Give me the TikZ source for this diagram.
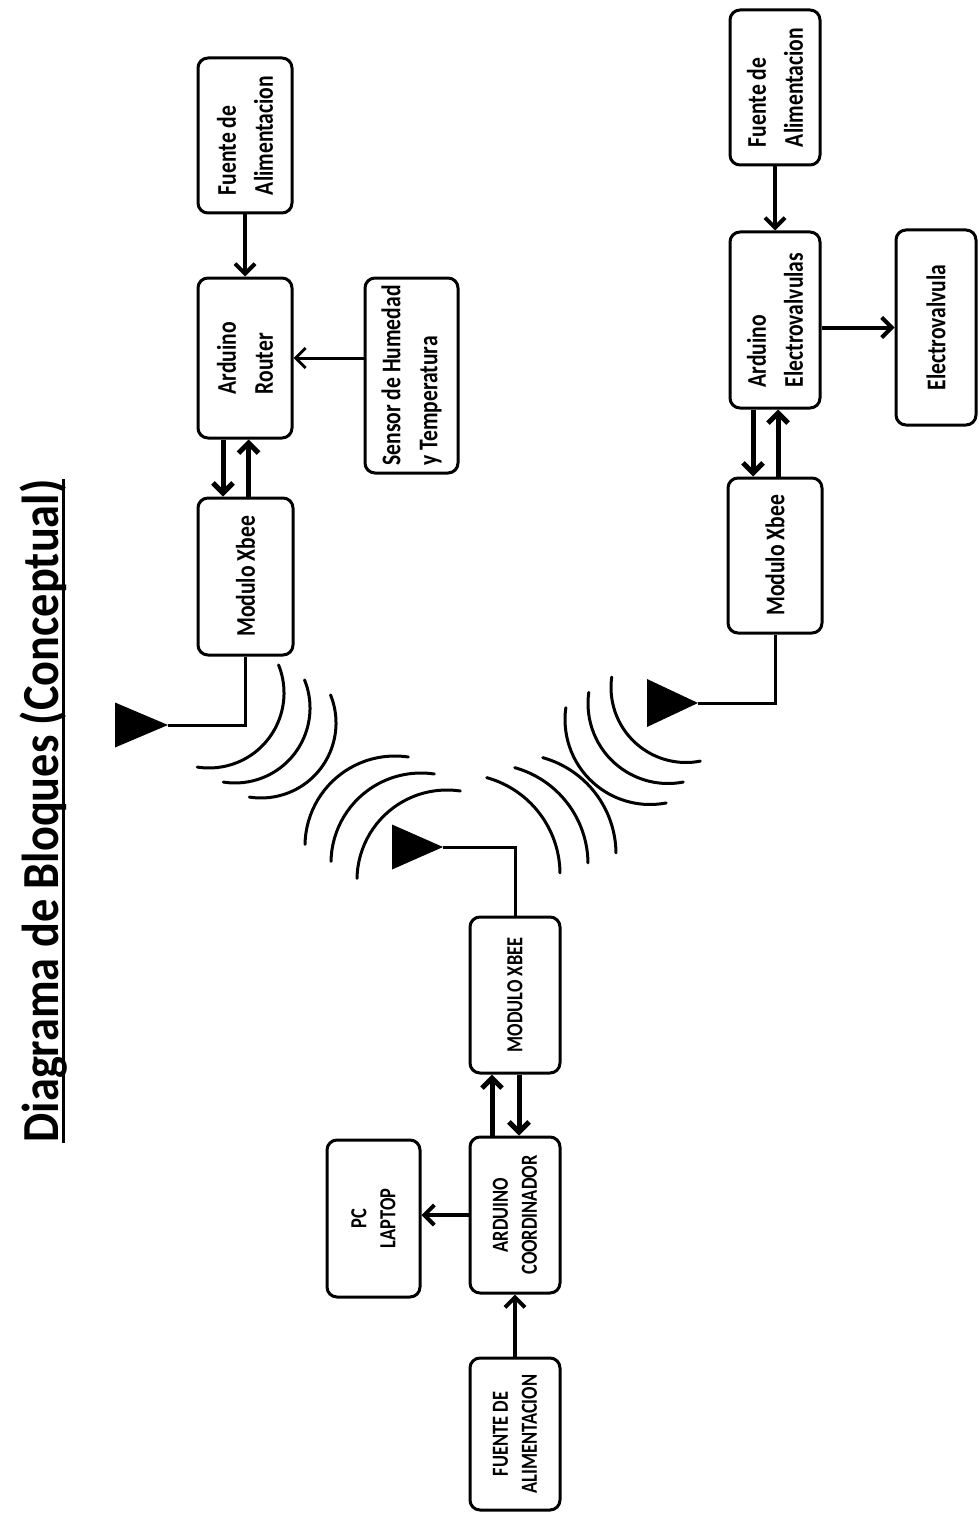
\documentclass[tikz,border=0pt]{standalone}
\usepackage{fontspec}
\setmainfont{Carlito}[FakeStretch=0.8]
\newfontfamily\titulofont{Carlito}[FakeStretch=0.89]
\usetikzlibrary{arrows.meta}

\begin{document}
\begin{tikzpicture}[x=1pt, y=-1pt,
    bloque/.style={draw, line width=3pt, rounded corners=10pt, rotate=90, align=left, inner sep=0pt, font=\bfseries\fontsize{27}{37}\selectfont},
    bloquemay/.style={bloque, align=center, font=\bfseries\fontsize{23}{29}\selectfont},
    titulo/.style={rotate=90, anchor=base, inner sep=0pt, font=\titulofont\bfseries\fontsize{52}{60}\selectfont},
    flecha/.style={line width=4pt, -{Straight Barb[length=10pt, width=20pt]}},
    flechadoble/.style={line width=5pt, -{Straight Barb[length=10pt, width=20pt]}},
    linea/.style={line width=3pt},
    onda/.style={line width=3pt, line cap=round}]

    \useasboundingbox (0,0) rectangle (979,1514);

    \node[titulo] (titulo) at (58.5,811) {Diagrama de Bloques (Conceptual)};
    \draw[linea] ([xshift=4.5pt]titulo.base west) -- ([xshift=4.5pt]titulo.base east);

    \node[bloque, minimum width=155pt, minimum height=94pt] (fuenteR) at (245,135.5) {Fuente de\\Alimentacion};
    \node[bloque, minimum width=160pt, minimum height=94pt] (router) at (245,358) {Arduino\\Router};
    \node[bloque, minimum width=195pt, minimum height=93pt] (sensor) at (411.5,375.5) {Sensor de Humedad\\y Temperatura};
    \node[bloque, minimum width=157pt, minimum height=95pt] (xbeeR) at (245.5,576.5) {Modulo Xbee};

    \node[bloque, minimum width=155pt, minimum height=90pt] (fuenteE) at (775,87.5) {Fuente de\\Alimentacion};
    \node[bloque, minimum width=176pt, minimum height=90pt] (ardE) at (775,320) {Arduino\\Electrovalvulas};
    \node[bloque, minimum width=195pt, minimum height=80pt] (valvula) at (936,327.5) {Electrovalvula};
    \node[bloque, minimum width=155pt, minimum height=94pt] (xbeeE) at (775,555.5) {Modulo Xbee};

    \node[bloquemay, minimum width=156pt, minimum height=90pt] (xbeeC) at (515,995) {MODULO XBEE};
    \node[bloquemay, minimum width=156pt, minimum height=90pt] (ardC) at (515,1215) {ARDUINO\\COORDINADOR};
    \node[bloquemay, minimum width=157pt, minimum height=93pt] (pc) at (373.5,1218.5) {PC\\LAPTOP};
    \node[bloquemay, minimum width=152pt, minimum height=90pt] (fuenteC) at (515,1434) {FUENTE DE\\ALIMENTACION};

    \draw[flecha] (fuenteR) -- (router);
    \draw[flecha, line width=3pt] (router -| sensor.north) -- (router.south);
    \draw[flechadoble] ([xshift=-22pt]router.west) -- ([xshift=-22pt]router.west |- xbeeR.east);
    \draw[flechadoble] ([xshift=3pt]xbeeR.east) -- ([xshift=3pt]xbeeR.east |- router.west);

    \draw[flecha] (fuenteE) -- (ardE);
    \draw[flecha] (ardE.south |- valvula) -- (valvula.north);
    \draw[flechadoble] ([xshift=-22pt]ardE.west) -- ([xshift=-22pt]ardE.west |- xbeeE.east);
    \draw[flechadoble] ([xshift=3pt]xbeeE.east) -- ([xshift=3pt]xbeeE.east |- ardE.west);

    \draw[flecha] (fuenteC) -- (ardC);
    \draw[flecha] (ardC.north) -- (ardC.north -| pc.south);
    \draw[flechadoble] ([xshift=-23pt]ardC.east) -- ([xshift=-23pt]ardC.east |- xbeeC.west);
    \draw[flechadoble] ([xshift=4pt]xbeeC.west) -- ([xshift=4pt]xbeeC.west |- ardC.east);

    \coordinate (antR) at (168,725);
    \coordinate (antE) at (698,703);
    \coordinate (antC) at (443,847);
    \fill (antR) -- ++(-53,-22.5) -- ++(0,45) -- cycle;
    \fill (antE) -- ++(-51,-24) -- ++(0,48) -- cycle;
    \fill (antC) -- ++(-51,-22.5) -- ++(0,45) -- cycle;
    \draw[linea] (xbeeR.west) |- (antR);
    \draw[linea] (xbeeE.west) |- (antE);
    \draw[linea] (xbeeC.east) |- (antC);

    \foreach \i in {0,1,2} {
        \draw[onda, shift={(\i*26,\i*15)}] (209,693) ++(-22:75) arc[start angle=-22, end angle=99, radius=75];
        \draw[onda, shift={(-\i*18,\i*16)}] (686,687.5) ++(188:75+\i*5) arc[start angle=188, end angle=79, radius=75+\i*5];
        \draw[onda, shift={(-\i*26,-\i*17)}] (447,880) ++(181:90) arc[start angle=181, end angle=278.5, radius=90];
        \draw[onda, shift={(\i*28,-\i*10)}] (460,874) ++(-74.5:100) arc[start angle=-74.5, end angle=-0.6, radius=100];
    }
\end{tikzpicture}
\end{document}
